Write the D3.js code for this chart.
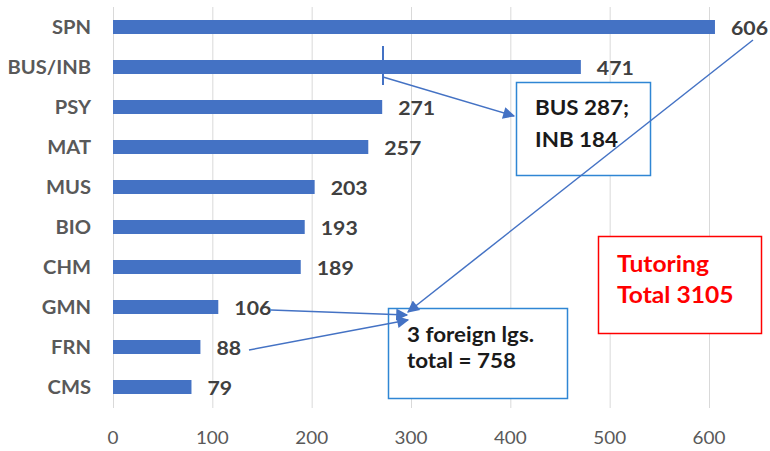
<!DOCTYPE html>
<html><head><meta charset="utf-8">
<script src="https://cdn.jsdelivr.net/npm/d3@7"></script>
<style>body{margin:0;background:#fff}svg{display:block}text{font-family:Lato,"Open Sans",sans-serif}</style>
</head><body>
<svg id="c" width="770" height="451"></svg>
<script>
const categories = ["SPN","BUS/INB","PSY","MAT","MUS","BIO","CHM","GMN","FRN","CMS"];
const values = [606,471,271,257,203,193,189,106,88,79];
const xTicks = [0,100,200,300,400,500,600];

const SX = 1.12; // horizontal stretch of text as in the reference
const svg = d3.select("#c");
const x = d3.scaleLinear().domain([0,600]).range([113,709]);
const y = d3.scaleBand().domain(categories).range([7,407]).paddingInner(0.65).paddingOuter(0.325);
const blue = "#4472C4";

function txt(g, tx, ty, s, size, weight, fill, anchor, sx) {
  return g.append("text").attr("transform",`translate(${tx},${ty}) scale(${sx||SX},1)`)
    .attr("font-size",size).attr("font-weight",weight).attr("fill",fill)
    .attr("text-anchor",anchor||"start").text(s);
}

// gridlines
svg.append("g").selectAll("line").data(xTicks).join("line")
  .attr("x1",d=>x(d)+0.5).attr("x2",d=>x(d)+0.5).attr("y1",7).attr("y2",408)
  .attr("stroke","#d9d9d9").attr("stroke-width",1);

// x tick labels
const gt = svg.append("g");
xTicks.forEach(d => txt(gt, x(d), 444, d, 18, "normal", "#595959", "middle", 1.05));

// category labels
const gc = svg.append("g");
categories.forEach(c => txt(gc, 91, y(c)+y.bandwidth()/2+7, c, 18, "bold", "#595959", "end"));

// bars
svg.append("g").selectAll("rect").data(values).join("rect")
  .attr("x",x(0)).attr("y",(d,i)=>y(categories[i])).attr("height",y.bandwidth())
  .attr("width",d=>x(d)-x(0)).attr("fill",blue);

// value labels
const gv = svg.append("g");
values.forEach((v,i) => txt(gv, x(v)+16, y(categories[i])+y.bandwidth()/2+8, v, 19, "bold", "#404040", "start"));

// arrow marker
svg.append("defs").append("marker").attr("id","ah").attr("viewBox","0 0 10 10").attr("refX",9).attr("refY",5)
  .attr("orient","auto").attr("markerUnits","userSpaceOnUse")
  .attr("markerWidth",16).attr("markerHeight",12)
  .append("path").attr("d","M0,0L10,5L0,10z").attr("fill",blue);

// BUS tick + arrow
svg.append("line").attr("x1",383).attr("x2",383).attr("y1",46).attr("y2",85).attr("stroke",blue).attr("stroke-width",2);
svg.append("line").attr("x1",383).attr("y1",77).attr("x2",514).attr("y2",116).attr("stroke",blue).attr("stroke-width",1.5).attr("marker-end","url(#ah)");

const ga = svg.append("g");
// BUS box
ga.append("rect").attr("x",516.5).attr("y",82.5).attr("width",134).attr("height",93).attr("fill","#fff").attr("stroke","#2f86d4").attr("stroke-width",1.5);
txt(ga, 535, 114.5, "BUS 287;", 20, "bold", "#1a1a1a");
txt(ga, 535, 146.5, "INB 184", 20, "bold", "#1a1a1a");

// foreign box
ga.append("rect").attr("x",388.5).attr("y",308.5).attr("width",179).attr("height",90).attr("fill","#fff").attr("stroke","#2f86d4").attr("stroke-width",1.5);
txt(ga, 407, 341.5, "3 foreign lgs.", 20, "bold", "#1a1a1a");
txt(ga, 407, 368, "total = 758", 20, "bold", "#1a1a1a");

// arrows to foreign box
svg.append("line").attr("x1",753).attr("y1",40).attr("x2",408).attr("y2",312).attr("stroke",blue).attr("stroke-width",1.5).attr("marker-end","url(#ah)");
svg.append("line").attr("x1",271).attr("y1",310).attr("x2",407).attr("y2",315).attr("stroke",blue).attr("stroke-width",1.5).attr("marker-end","url(#ah)");
svg.append("line").attr("x1",249).attr("y1",350).attr("x2",408).attr("y2",320).attr("stroke",blue).attr("stroke-width",1.5).attr("marker-end","url(#ah)");

// red box
const gr = svg.append("g");
gr.append("rect").attr("x",598.5).attr("y",236.5).attr("width",163).attr("height",97).attr("fill","#fff").attr("stroke","#ff0000").attr("stroke-width",1.5);
txt(gr, 617, 271.5, "Tutoring", 22, "bold", "#ff0000");
txt(gr, 617, 303, "Total 3105", 22, "bold", "#ff0000");
</script>
</body></html>
